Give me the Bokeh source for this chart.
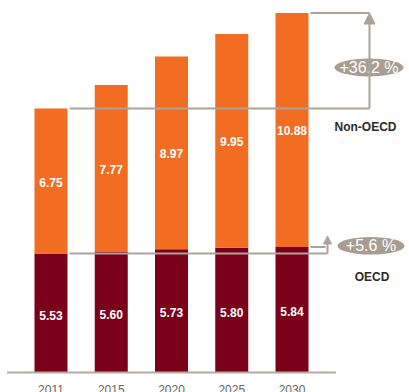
from bokeh.plotting import figure
from bokeh.models import Range1d, Arrow, NormalHead, ColumnDataSource
from bokeh.core.properties import value
from bokeh.embed import file_html
from bokeh.resources import INLINE

# Energy demand by region (stacked), selected years
years = ["2011", "2015", "2020", "2025", "2030"]
oecd = [5.53, 5.60, 5.73, 5.80, 5.84]
non_oecd = [6.75, 7.77, 8.97, 9.95, 10.88]
region_labels = ["OECD", "Non-OECD"]

# colours
ORANGE = "#F26D22"
MAROON = "#7B0019"
GREY = "#ABA399"
PILL = "#A89D92"
FONT = value("Liberation Sans")

# canvas geometry (pixels)
W, H = 409, 392
STEP = 60.25      # distance between bar centres
X0 = 50.5         # centre of the first bar
BASE = 372        # zero line
PPU = 21.5        # pixels per unit
BAR_W = 33 / STEP


def dx(px):
    return (px - X0) / STEP


def dy(py):
    return (BASE - py) / PPU


idx = list(range(len(years)))
totals = [a + b for a, b in zip(oecd, non_oecd)]
src = ColumnDataSource(dict(
    x=idx,
    year=years,
    oecd=oecd,
    total=totals,
    oecd_mid=[v / 2 for v in oecd],
    non_mid=[a + b / 2 for a, b in zip(oecd, non_oecd)],
    oecd_txt=[f"{v:.2f}" for v in oecd],
    non_txt=[f"{v:.2f}" for v in non_oecd],
))

p = figure(width=W, height=H, x_range=Range1d(dx(0), dx(W)),
           y_range=Range1d(dy(H), dy(0)), x_axis_type=None, y_axis_type=None,
           output_backend="svg", toolbar_location=None, min_border=0,
           outline_line_color=None, background_fill_color="white",
           border_fill_color="white")

# stacked bars
p.vbar(x="x", width=BAR_W, bottom=0, top="oecd", source=src,
       fill_color=MAROON, line_color=None)
p.vbar(x="x", width=BAR_W, bottom="oecd", top="total", source=src,
       fill_color=ORANGE, line_color=None)

# value labels inside the segments
p.text(x="x", y="oecd_mid", text="oecd_txt", source=src, text_color="white",
       text_font=FONT, text_font_size="12px", text_font_style="bold",
       text_align="center", text_baseline="middle", y_offset=2)
p.text(x="x", y="non_mid", text="non_txt", source=src, text_color="white",
       text_font=FONT, text_font_size="12px", text_font_style="bold",
       text_align="center", text_baseline="middle", y_offset=1)

# baseline and year labels
ext = BAR_W / 2 + 27.5 / STEP
p.segment(x0=[idx[0] - ext], y0=[0], x1=[idx[-1] + ext], y1=[0],
          line_color="#B3ABA2", line_width=2)
p.text(x="x", y=0, text="year", source=src, text_color="#666666",
       text_font=FONT, text_font_size="12px", text_align="center",
       text_baseline="top", y_offset=12)

gap = 2 / STEP
right0 = idx[0] + BAR_W / 2 + gap
right1 = idx[-1] + BAR_W / 2 + gap

# growth bracket for Non-OECD (total height)
xn = dx(369)
p.segment(x0=[right0, right1], y0=[totals[0], totals[-1]],
          x1=[xn, xn], y1=[totals[0], totals[-1]],
          line_color=GREY, line_width=2)
p.add_layout(Arrow(x_start=xn, y_start=totals[0], x_end=xn, y_end=totals[-1],
                   line_color=GREY, line_width=2,
                   end=NormalHead(size=11, fill_color=GREY, line_color=GREY)))

# growth bracket for OECD
xo = dx(327)
p.segment(x0=[right0, right1], y0=[oecd[0], oecd[-1]],
          x1=[xo, xo - 2 / STEP], y1=[oecd[0], oecd[-1]],
          line_color=GREY, line_width=2)
p.add_layout(Arrow(x_start=xo, y_start=oecd[0], x_end=xo,
                   y_end=oecd[-1] + 11 / PPU,
                   line_color=GREY, line_width=2,
                   end=NormalHead(size=8, fill_color=GREY, line_color=GREY)))

# percentage pills
pct_non = f"+{(totals[-1] / totals[0] - 1) * 100:.1f} %"
pct_oecd = f"+{(oecd[-1] / oecd[0] - 1) * 100:.1f} %"
pill_x = [dx(368.5), dx(370.5)]
pill_y = [dy(67), dy(245.3)]
p.ellipse(x=pill_x, y=pill_y, width=[69, 67], height=[18, 17.5],
          width_units="screen", height_units="screen",
          fill_color=PILL, line_color=None)
p.text(x=pill_x, y=pill_y, text=[pct_non, pct_oecd], text_color="white",
       text_font=FONT, text_font_size="16px", text_align="center",
       text_baseline="middle")

# region names
p.text(x=[dx(365), dx(371.5)], y=[dy(126), dy(276)],
       text=[region_labels[1], region_labels[0]], text_color="#2a2a2a",
       text_font=FONT, text_font_size="12px", text_font_style="bold",
       text_align="center", text_baseline="middle")

open("out.html", "w").write(file_html(p, INLINE))
